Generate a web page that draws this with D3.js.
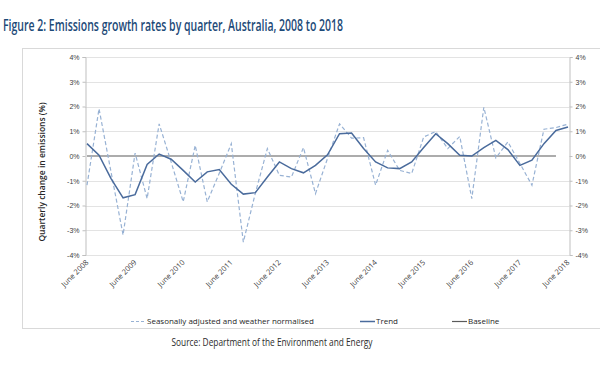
<!DOCTYPE html>
<html>
<head>
<meta charset="utf-8">
<script src="https://cdn.jsdelivr.net/npm/d3@7"></script>
<style>
  body { margin: 0; background: #fff; }
  svg { display: block; font-family: "Open Sans", "Liberation Sans", sans-serif; }
</style>
</head>
<body>
<div id="grafico"></div>
<script>
// Trimestres de junio 2008 a junio 2018
const meses = ["Jun", "Sep", "Dec", "Mar"];
const trimestres = d3.range(41).map((i) => {
  const anio = 2008 + Math.floor((i + 1) / 4);
  return meses[i % 4] + " " + anio;
});

const etiquetasX = ["June 2008", "June 2009", "June 2010", "June 2011", "June 2012",
  "June 2013", "June 2014", "June 2015", "June 2016", "June 2017", "June 2018"];

const ticksY = [4, 3, 2, 1, 0, -1, -2, -3, -4];

// Serie desestacionalizada (%)
const ajustada = [-1.18, 1.91, -0.65, -3.19, 0.12, -1.72, 1.30, -0.25, -1.85, 0.43,
  -1.85, -0.70, 0.50, -3.48, -1.50, 0.30, -0.78, -0.85, 0.34, -1.52,
  -0.10, 1.30, 0.72, 0.74, -1.18, 0.23, -0.58, -0.71, 0.77, 0.99,
  0.30, 0.79, -1.72, 1.97, -0.08, 0.57, -0.30, -1.18, 1.08, 1.15, 1.29];

// Tendencia (%)
const tendencia = [0.50, 0.03, -0.91, -1.69, -1.56, -0.34, 0.08, -0.13, -0.58, -1.05,
  -0.64, -0.55, -1.14, -1.54, -1.48, -0.85, -0.24, -0.51, -0.68, -0.38,
  0.05, 0.90, 0.93, 0.30, -0.24, -0.48, -0.51, -0.24, 0.34, 0.90,
  0.50, 0.03, 0.00, 0.34, 0.63, 0.26, -0.38, -0.17, 0.50, 1.03, 1.17];

// Línea base en cero
const base = trimestres.slice(0, 40).map(() => 0);

const width = 600;
const height = 372;

const svg = d3.select("#grafico")
  .append("svg")
  .attr("width", width)
  .attr("height", height);

// Título
svg.append("text")
  .attr("x", 3)
  .attr("y", 31)
  .attr("fill", "#1d4a78")
  .style("font-size", "15.5px")
  .style("font-weight", "600")
  .attr("textLength", 340)
  .attr("lengthAdjust", "spacingAndGlyphs")
  .text("Figure 2: Emissions growth rates by quarter, Australia, 2008 to 2018");

// Marco
svg.append("rect")
  .attr("x", 22.5)
  .attr("y", 48.5)
  .attr("width", 590)
  .attr("height", 280)
  .attr("fill", "none")
  .attr("stroke", "#d9d9d9");

const x = d3.scalePoint()
  .domain(trimestres)
  .range([87, 568]);

const y = d3.scaleLinear()
  .domain([-4, 4])
  .range([255, 57]);

// Líneas de cuadrícula
svg.append("g")
  .selectAll("line")
  .data(ticksY.filter((d) => d !== 0))
  .join("line")
  .attr("x1", 85)
  .attr("x2", 569)
  .attr("y1", (d) => Math.round(y(d)) + 0.5)
  .attr("y2", (d) => Math.round(y(d)) + 0.5)
  .attr("stroke", "#e3e3e3");

// Eje izquierdo
const ejeIzq = svg.append("g")
  .attr("transform", "translate(85.5,0)")
  .call(d3.axisLeft(y).tickValues(ticksY).tickSize(3)
    .tickFormat((d) => d + "%"));
ejeIzq.select(".domain").attr("stroke", "#bfbfbf");
ejeIzq.selectAll("line").attr("stroke", "#bfbfbf");
ejeIzq.selectAll("text").attr("fill", "#404040").style("font-size", "7px")
  .attr("x", -6);

// Eje derecho
const ejeDer = svg.append("g")
  .attr("transform", "translate(569.5,0)")
  .call(d3.axisRight(y).tickValues(ticksY).tickSize(3)
    .tickFormat((d) => d + "%"));
ejeDer.select(".domain").attr("stroke", "#bfbfbf");
ejeDer.selectAll("line").attr("stroke", "#bfbfbf");
ejeDer.selectAll("text").attr("fill", "#404040").style("font-size", "7px")
  .attr("x", 6);

// Etiquetas eje X
svg.append("g")
  .selectAll("text")
  .data(etiquetasX)
  .join("text")
  .attr("transform", (d, i) => `translate(${x(trimestres[i * 4]) + 2},${263}) rotate(-45)`)
  .attr("text-anchor", "end")
  .attr("fill", "#404040")
  .style("font-size", "7.5px")
  .text((d) => d);

// Título eje Y
svg.append("text")
  .attr("transform", "translate(45,172) rotate(-90)")
  .attr("text-anchor", "middle")
  .attr("fill", "#262626")
  .style("font-size", "8.5px")
  .style("font-weight", "600")
  .text("Quarterly change in emissions (%)");

const linea = d3.line()
  .x((d, i) => x(trimestres[i]))
  .y((d) => y(d));

// Línea base
svg.append("path")
  .datum(base)
  .attr("d", linea)
  .attr("fill", "none")
  .attr("stroke", "#5a5a5a")
  .attr("stroke-width", 1.2);

// Serie ajustada
svg.append("path")
  .datum(ajustada)
  .attr("d", linea)
  .attr("fill", "none")
  .attr("stroke", "#98b2d4")
  .attr("stroke-width", 1.2)
  .attr("stroke-dasharray", "4,2.5");

// Tendencia
svg.append("path")
  .datum(tendencia)
  .attr("d", linea)
  .attr("fill", "none")
  .attr("stroke", "#4a6b9c")
  .attr("stroke-width", 1.5);

// Leyenda
const leyenda = [
  { nombre: "Seasonally adjusted and weather normalised", x: 131, color: "#98b2d4", dash: "3,2", w: 1.2 },
  { nombre: "Trend", x: 360, color: "#4a6b9c", dash: null, w: 1.5 },
  { nombre: "Baseline", x: 452, color: "#5a5a5a", dash: null, w: 1.2 },
];
leyenda.forEach((l) => {
  const g = svg.append("g").attr("transform", `translate(${l.x},321)`);
  g.append("line")
    .attr("x1", 0).attr("x2", 15)
    .attr("y1", 0.5).attr("y2", 0.5)
    .attr("stroke", l.color)
    .attr("stroke-width", l.w)
    .attr("stroke-dasharray", l.dash);
  g.append("text")
    .attr("x", 16)
    .attr("y", 3)
    .attr("fill", "#262626")
    .style("font-size", "8px")
    .text(l.nombre);
});

// Fuente
svg.append("text")
  .attr("x", 272)
  .attr("y", 346)
  .attr("text-anchor", "middle")
  .attr("fill", "#2b2b2b")
  .style("font-size", "11px")
  .attr("textLength", 201)
  .attr("lengthAdjust", "spacingAndGlyphs")
  .text("Source: Department of the Environment and Energy");
</script>
</body>
</html>
